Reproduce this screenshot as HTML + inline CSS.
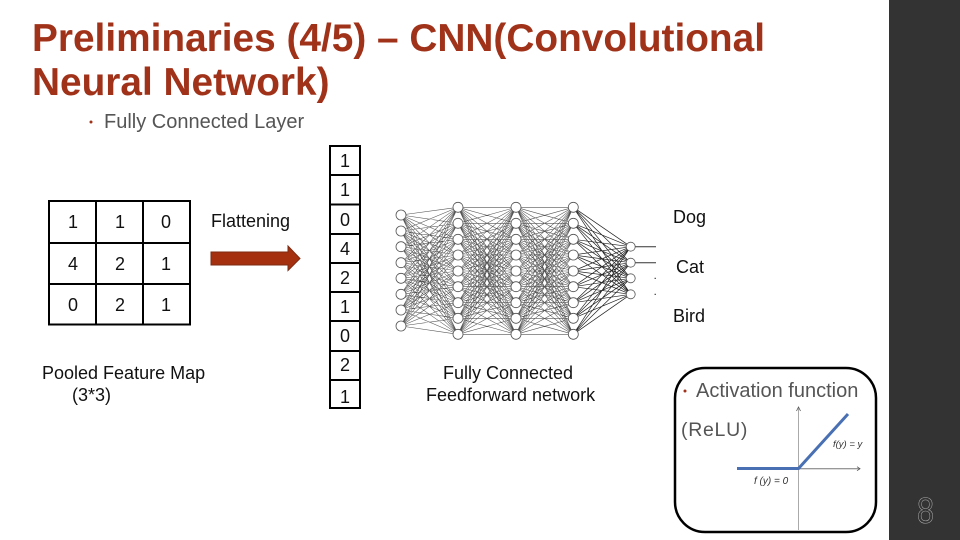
<!DOCTYPE html>
<html lang="en">
<head>
<meta charset="utf-8">
<title>Preliminaries (4/5) – CNN</title>
<style>
html,body{margin:0;padding:0;background:#fff;}
svg{display:block;}
text{font-family:"Liberation Sans",Arial,sans-serif;}
.t{font-size:18px;fill:#111;text-anchor:middle;}
.l{font-size:18px;fill:#111;}
.g{fill:#555;}
</style>
</head>
<body>
<svg id="s" xmlns="http://www.w3.org/2000/svg" width="960" height="540" viewBox="0 0 960 540">
<rect width="960" height="540" fill="#fff"/>
<rect x="889" y="0" width="71" height="540" fill="#333"/>
<text x="32" y="51" font-size="38.8" font-weight="bold" fill="#a1321a">Preliminaries (4/5) – CNN(Convolutional</text>
<text x="32" y="95" font-size="38.8" font-weight="bold" fill="#a1321a">Neural Network)</text>
<circle cx="91" cy="122" r="1.5" fill="#a1321a"/>
<text x="104" y="128" font-size="20" class="g">Fully Connected Layer</text>

<g stroke="#000" stroke-width="2" fill="none">
<rect x="49" y="201" width="141" height="123.5"/>
<path d="M96 201V324.500M143 201V324.500M49 243H190M49 284H190"/>
<rect x="330" y="146" width="30" height="262"/>
<path d="M330 175H360M330 204.500H360M330 234H360M330 263H360M330 292H360M330 321H360M330 351H360M330 380H360"/>
</g>
<g>
<text class="t" x="73" y="228">1</text><text class="t" x="120" y="228">1</text><text class="t" x="166" y="228">0</text>
<text class="t" x="73" y="270">4</text><text class="t" x="120" y="270">2</text><text class="t" x="166" y="270">1</text>
<text class="t" x="73" y="311">0</text><text class="t" x="120" y="311">2</text><text class="t" x="166" y="311">1</text>
<text class="t" x="345" y="167">1</text>
<text class="t" x="345" y="196">1</text>
<text class="t" x="345" y="226">0</text>
<text class="t" x="345" y="255">4</text>
<text class="t" x="345" y="284">2</text>
<text class="t" x="345" y="313">1</text>
<text class="t" x="345" y="342">0</text>
<text class="t" x="345" y="371">2</text>
<text class="t" x="345" y="403">1</text>
</g>
<text class="l" x="211" y="227">Flattening</text>
<path d="M211 252H288V246L300 258.500L288 270.500V265H211Z" fill="#a5300f" stroke="#7d2a12" stroke-width="1"/>
<text class="l" x="42" y="379">Pooled Feature Map</text>
<text class="l" x="72" y="401">(3*3)</text>

<g id="net"></g>

<text class="l" x="673" y="223">Dog</text>
<text class="l" x="676" y="273">Cat</text>
<text class="l" x="673" y="322">Bird</text>
<text class="l" x="443" y="379">Fully Connected</text>
<text class="l" x="426" y="401">Feedforward network</text>

<rect x="675" y="368" width="201" height="164" rx="30" ry="30" fill="#fff" stroke="#000" stroke-width="2.500"/>
<circle cx="685" cy="391" r="1.500" fill="#a1321a"/>
<text x="696" y="397" font-size="20" class="g">Activation function</text>
<text x="681" y="436" font-size="19.500" letter-spacing="0.700" class="g">(ReLU)</text>
<path d="M798.500 407V530" stroke="#aaa" stroke-width="1" fill="none"/>
<path d="M798 468.700H860" stroke="#777" stroke-width="1" fill="none"/>
<path d="M796.500 411L798.500 407L800.500 411M857 466.700L860 468.700L857 470.700" stroke="#555" stroke-width="0.800" fill="none"/>
<path d="M737 468.500H798.500L848 414" stroke="#4a70b4" stroke-width="3" fill="none"/>
<text x="833" y="447" font-size="9.500" font-style="italic" fill="#333">f(y) = y</text>
<text x="754" y="484" font-size="10" font-style="italic" fill="#333">f (y) = 0</text>
<text x="0" y="0" font-size="36" fill="#333" stroke="#aaa" stroke-width="0.600" text-anchor="middle" transform="translate(925.500 523) scale(.85 1)">8</text>
</svg>
<script>
(function(){
var NS="http://www.w3.org/2000/svg",g=document.getElementById("net");
var y8=[215,231,246.7,262.7,278.3,294.3,310,326];
var y9=[207.3,223.3,239.3,255,271,286.7,302.7,318.3,334.3];
var y4=[246.7,262.7,278.3,294.3];
var L=[{x:401,y:y8,r:5},{x:458,y:y9,r:5},{x:516,y:y9,r:5},{x:573.3,y:y9,r:5},{x:630.7,y:y4,r:4.5}];
var col=["#555","#555","#555","#222"],sw=[.55,.55,.55,.7];
function add(n,a){var e=document.createElementNS(NS,n);for(var k in a)e.setAttribute(k,a[k]);g.appendChild(e);}
for(var i=0;i<4;i++){var A=L[i],B=L[i+1],d="";
  A.y.forEach(function(a){B.y.forEach(function(b){d+="M"+A.x+" "+a+"L"+B.x+" "+b;});});
  add("path",{d:d,stroke:col[i],"stroke-width":sw[i],fill:"none"});
}
y4.forEach(function(y,i){add("path",{d:i<2?"M631 "+y+"H656":"M654.500 "+y+"H656",stroke:"#333","stroke-width":1,fill:"none"});});
L.forEach(function(l){l.y.forEach(function(y){add("circle",{cx:l.x,cy:y,r:l.r,fill:"#fff",stroke:"#555","stroke-width":.8});});});
})();
</script>
</body>
</html>
